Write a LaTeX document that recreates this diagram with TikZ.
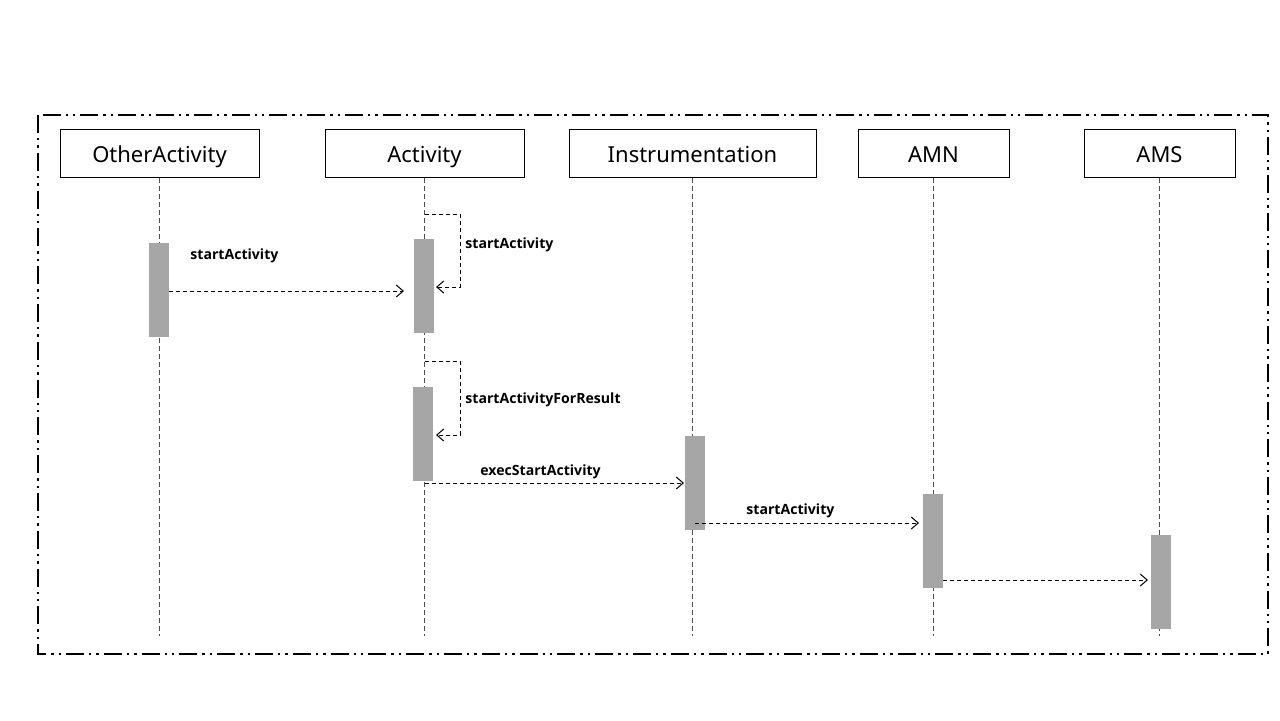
\documentclass[tikz,border=0pt]{standalone}
\usepackage{fontspec}
\setmainfont{Noto Sans}
\newfontfamily\fuenteetiq{Open Sans}
\usetikzlibrary{arrows.meta}
\definecolor{barragris}{RGB}{166,166,166}
\definecolor{lineavida}{RGB}{80,80,80}

\begin{document}
\begin{tikzpicture}[x=0.5pt,y=-0.5pt,
    objeto/.style={draw, line width=0.5pt, minimum height=24pt, inner sep=0pt,
      text height=9.5pt, text depth=0pt, font=\fontsize{11}{13}\selectfont},
    barra/.style={fill=barragris, minimum width=10pt, minimum height=47pt, inner sep=0pt},
    vida/.style={lineavida, line width=0.5pt, dash pattern=on 2.5pt off 1.5pt},
    mensaje/.style={line width=0.5pt, dash pattern=on 2pt off 1.5pt,
      -{Straight Barb[length=3.5pt,width=6pt]}},
    etiqueta/.style={anchor=west, inner sep=0pt, text height=5.1pt, text depth=0pt,
      font=\fuenteetiq\bfseries\fontsize{7.05}{9}\selectfont}]

    \useasboundingbox (0,0) rectangle (1280,720);

    % Marco exterior (raya-punto-punto)
    \draw[line width=1pt, dash pattern=on 9pt off 2.5pt on 1.2pt off 2.5pt on 1.2pt off 2.5pt]
      (38,115) rectangle (1268,654);

    % Objetos
    \node[objeto, minimum width=99.5pt] (other) at (159.5,153) {OtherActivity};
    \node[objeto, minimum width=99.5pt] (act) at (424.5,153) {Activity};
    \node[objeto, minimum width=123.5pt] (instr) at (692.5,153) {Instrumentation};
    \node[objeto, minimum width=75.5pt] (amn) at (933.5,153) {AMN};
    \node[objeto, minimum width=75.5pt] (ams) at (1159.5,153) {AMS};

    % Lineas de vida
    \foreach \obj in {other,act,instr,amn,ams} {
      \coordinate (\obj-fin) at (\obj |- 0,636);
      \draw[vida] (\obj) -- (\obj-fin);
    }

    % Barras de activacion
    \node[barra] (b-other) at (159,290) {};
    \node[barra] (b-act1) at (424,286) {};
    \node[barra] (b-act2) at (423,434) {};
    \node[barra] (b-instr) at (695,483) {};
    \node[barra] (b-amn) at (933,541) {};
    \node[barra] (b-ams) at (1160.5,582) {};

    % Mensajes
    \coordinate (m1-fin) at (404,291);
    \draw[mensaje] (b-other.east |- m1-fin) -- (m1-fin);

    \coordinate (r1-ini) at (425,214);
    \coordinate (r1-fin) at (436,287);
    \draw[mensaje] (r1-ini) -- (460,214) |- (r1-fin);

    \coordinate (r2-ini) at (425,361);
    \coordinate (r2-fin) at (436,435);
    \draw[mensaje] (r2-ini) -- (460,361) |- (r2-fin);

    \coordinate (m2-ini) at (425,483);
    \coordinate (m2-fin) at (684,483);
    \draw[mensaje] (m2-ini) -- (m2-fin);

    \coordinate (m3-ini) at (695,523);
    \coordinate (m3-fin) at (919,523);
    \draw[mensaje] (m3-ini) -- (m3-fin);

    \coordinate (m4-fin) at (1148,580);
    \draw[mensaje] (b-amn.east |- m4-fin) -- (m4-fin);

    % Etiquetas de los mensajes
    \node[etiqueta] (e1) at (190,254) {startActivity};
    \node[etiqueta] (e2) at (465,243) {startActivity};
    \node[etiqueta] (e3) at (465,398) {startActivityForResult};
    \node[etiqueta] (e4) at (480,470) {execStartActivity};
    \node[etiqueta] (e5) at (746,509) {startActivity};

\end{tikzpicture}
\end{document}
